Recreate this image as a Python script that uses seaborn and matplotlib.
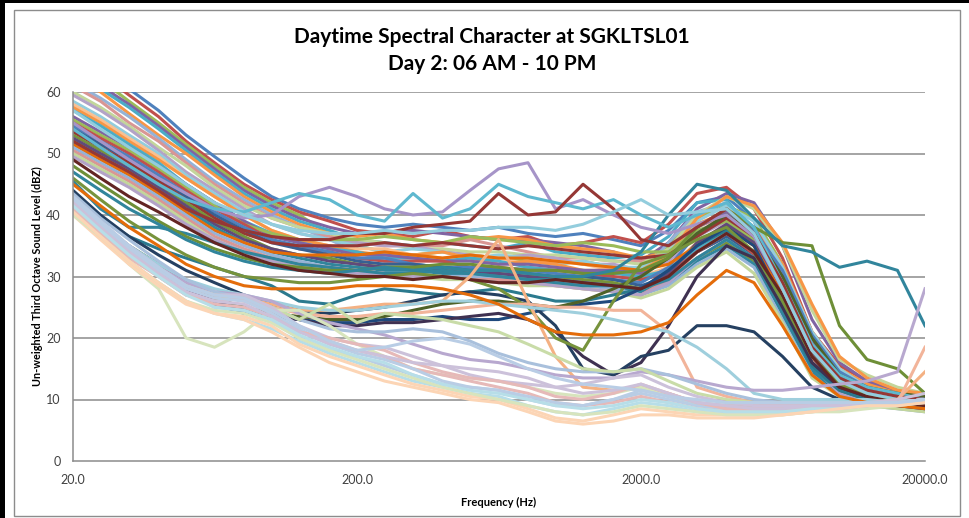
import matplotlib
matplotlib.use("Agg")
import matplotlib.pyplot as plt
from matplotlib.patches import Rectangle
import pandas as pd
import seaborn as sns

plt.rcParams["font.family"] = ["Lato", "DejaVu Sans"]

# third octave band centre frequencies (Hz)
bands = [20, 25, 31.5, 40, 50, 63, 80, 100, 125, 160, 200, 250, 315, 400, 500, 630,
         800, 1000, 1250, 1600, 2000, 2500, 3150, 4000, 5000, 6300, 8000, 10000,
         12500, 16000, 20000]

# busy daytime intervals (dBZ per band)
loud = [
    [67, 64, 60.5, 57, 53, 49.5, 46, 43, 41, 39.5, 38.5, 38, 38.5, 38, 37.5, 38, 37, 36.5, 37, 36, 35, 37.5, 42, 43, 39, 30, 19, 14, 12, 10.5, 9],
    [66, 63, 59.5, 56, 52, 48.5, 45, 42.5, 40.5, 39, 37.5, 37, 36.5, 37.5, 36.5, 36, 36.5, 35, 35.5, 36.5, 35.5, 38.5, 43.5, 44.5, 41, 33, 21, 15.5, 13, 11.5, 10],
    [65, 62, 58.5, 55, 51.5, 48, 44.5, 42, 40, 37, 35, 34, 33.5, 34, 33.5, 33, 32.5, 32, 32.5, 31.5, 31, 35, 39.5, 41.5, 39.5, 32, 20, 14.5, 12, 10.5, 9.5],
    [64, 61, 58, 54.5, 51, 47.5, 44, 41.5, 39.5, 38, 37, 37, 37.5, 37, 36.5, 36, 36, 35.5, 35, 34, 32.5, 35.5, 41, 43.5, 42, 35, 23, 16, 13, 11, 10],
    [63, 60.5, 57.5, 54, 50.5, 47, 43.5, 41, 39, 37.5, 36, 35.5, 35, 35.5, 35, 34.5, 35.5, 34, 33.5, 33, 33.5, 36.5, 42, 42.5, 37, 27, 17, 13, 11, 9.5, 9],
    [62.5, 60, 56.5, 53, 50, 46.5, 43, 40.5, 38.5, 37, 36.5, 37, 36, 35.5, 36, 36.5, 36, 35, 34.5, 34, 33, 34, 38.5, 40.5, 38, 32, 21, 15, 12.5, 11, 10.5],
    [61.5, 59, 56, 52.5, 49, 45.5, 42.5, 40, 38, 36, 34, 32.5, 32, 31.5, 31.5, 31, 31.5, 31, 31, 30.5, 30.5, 35.5, 40.5, 42, 37.5, 28, 17.5, 13, 11, 10, 9],
    [61, 58.5, 55, 52, 48.5, 45, 42, 39.5, 38, 36.5, 35.5, 35, 35, 35, 36, 35, 34, 33, 33, 32.5, 32.5, 34, 38, 40, 37.5, 30, 19.5, 14, 11.5, 10, 9.5],
    [60, 57.5, 54.5, 51, 48, 44.5, 41.5, 39.5, 38, 37, 36, 35.5, 34.5, 34.5, 34, 34, 33.5, 33.5, 33, 32.5, 32, 34.5, 40, 43, 41, 35, 24.5, 16.5, 14, 12, 11],
    [59.5, 57, 54, 50.5, 47, 44, 41, 38.5, 37, 36, 35.5, 35, 35, 34, 33.5, 33, 33.5, 33, 32, 32, 31, 32.5, 36.5, 39, 36, 28, 18, 13.5, 11.5, 10, 9],
    [58.5, 56, 53, 50, 46.5, 43.5, 40.5, 38.5, 37, 36, 35, 34, 34.5, 34, 33, 33.5, 33, 32, 32.5, 31.5, 31.5, 34, 39, 41.5, 39, 31.5, 21, 15, 12, 10.5, 10],
    [58, 55.5, 52.5, 49.5, 46, 43, 40, 37.5, 36, 35, 34.5, 34.5, 33.5, 33, 33.5, 33, 32, 32.5, 32, 31, 30, 31.5, 35.5, 38.5, 35.5, 27, 17, 12.5, 10.5, 9.5, 9],
    [57.5, 55, 52, 49, 46, 43, 40, 37.5, 36, 35, 34, 33.5, 33.5, 34, 33, 32, 32.5, 32, 31, 31, 31, 33.5, 39.5, 43, 41.5, 35.5, 25.5, 17, 13.5, 11.5, 11],
    [57, 54.5, 51.5, 48.5, 45, 42, 39, 37, 35.5, 34.5, 34, 33, 33, 32.5, 33, 32.5, 31.5, 31, 31, 30.5, 30, 31, 34.5, 37, 34, 26, 16.5, 12, 10.5, 9.5, 9],
    [56, 53.5, 51, 48, 45, 42, 39, 36.5, 35.5, 34.5, 33.5, 33.5, 33, 32.5, 32.5, 32, 32, 31.5, 31, 31, 30.5, 33, 38, 40.5, 38, 30, 19.5, 14, 11.5, 10, 9.5],
    [55.5, 53, 50.5, 47.5, 44.5, 41.5, 38.5, 37, 36, 36, 36, 36.5, 36, 35.5, 36.5, 36, 35.5, 35, 35.5, 35, 34, 34, 37.5, 39, 36, 28.5, 18.5, 13, 11, 10, 9.5],
    [55, 52.5, 50, 47, 44, 41, 38.5, 36, 34.5, 34, 33, 32.5, 32.5, 32.5, 31.5, 31.5, 31, 31, 30.5, 30, 29.5, 30.5, 34, 36.5, 33.5, 25, 15.5, 11.5, 10, 9.5, 9],
    [54.5, 52, 49.5, 46.5, 43.5, 40.5, 38, 36, 35, 34, 33, 33, 32, 31.5, 31.5, 31, 31, 30.5, 30, 29.5, 29, 31.5, 37, 40, 37.5, 31, 20.5, 14.5, 12, 10.5, 10],
    [54, 51.5, 49, 46, 43, 40, 37.5, 35.5, 34.5, 33.5, 32.5, 32, 32, 31.5, 31, 31, 30.5, 30, 30, 29.5, 28.5, 30, 34, 36.5, 33, 24.5, 15.5, 11.5, 10, 9.5, 9],
    [53.5, 51, 48.5, 45.5, 42.5, 39.5, 37, 35.5, 35, 35, 35, 35.5, 35, 35.5, 35, 34.5, 35, 34.5, 34, 33.5, 33, 33.5, 36.5, 39.5, 36.5, 29, 18.5, 13.5, 11.5, 10, 9.5],
    [53, 50.5, 48, 45, 42, 39, 36.5, 34.5, 33.5, 33, 32, 31.5, 31.5, 31, 30.5, 30.5, 30, 30, 29.5, 29, 28, 29.5, 33, 35.5, 32.5, 24, 14.5, 11, 9.5, 9, 8.5],
    [52.5, 50, 47.5, 44.5, 41.5, 38.5, 36, 34.5, 33.5, 32.5, 32, 31.5, 31, 31, 30.5, 30.5, 30, 29.5, 29, 28.5, 28, 30.5, 35.5, 38.5, 35.5, 28, 17.5, 13, 11, 10, 9.5],
    [52, 49.5, 47, 44, 41, 38, 35.5, 34, 33, 32, 31.5, 31, 31, 30.5, 30.5, 30, 29.5, 29.5, 29, 28.5, 27.5, 29, 32.5, 35, 32, 24, 14.5, 11, 9.5, 9, 8.5],
    [51.5, 49, 46.5, 43.5, 40.5, 37.5, 35.5, 34, 33.5, 33.5, 33.5, 34, 33.5, 33, 33.5, 33, 33, 32.5, 32, 31.5, 31, 32, 35, 38, 35, 27, 17, 12.5, 10.5, 9.5, 9],
    [51, 48.5, 46, 43, 40, 37, 35, 33.5, 32.5, 31.5, 31, 30.5, 30.5, 30, 30, 29.5, 29, 29, 28.5, 28, 27, 28.5, 32, 34.5, 31.5, 23, 14, 10.5, 9, 8.5, 8],
    [50.5, 48, 45.5, 42.5, 39.5, 36.5, 34.5, 33, 32, 31.5, 31, 30.5, 30, 30, 29.5, 29.5, 29, 28.5, 28, 27.5, 27, 29.5, 34, 37, 34, 26, 16.5, 12, 10.5, 9.5, 9],
    [50, 47.5, 45, 42, 39, 36, 34, 32.5, 31.5, 31, 30.5, 30, 30, 29.5, 29.5, 29, 28.5, 28.5, 28, 27.5, 26.5, 28, 31.5, 34, 30.5, 22.5, 13.5, 10.5, 9, 8.5, 8],
    [49.5, 47, 44.5, 41.5, 38.5, 36, 34, 32.5, 31.5, 31, 30.5, 30.5, 30, 30, 29.5, 29, 29, 28.5, 28, 27.5, 27, 29, 33, 36, 33, 25, 15.5, 11, 9.5, 9, 8.5],
]

# intervals with distinct events in the mid bands
events = [
    [55, 52, 49, 46, 43.5, 41, 39.5, 40, 43, 44.5, 43, 41, 40, 40.5, 44, 47.5, 48.5, 41, 42.5, 40, 38, 37, 38.5, 40, 36.5, 28, 18, 13.5, 11.5, 10.5, 10],
    [54, 51, 48, 45, 42.5, 41, 40.5, 42, 43.5, 42.5, 40, 39, 43.5, 39.5, 41, 45, 43, 42, 41, 42.5, 40, 38, 40, 42, 38, 29, 19, 14, 12, 11, 10],
    [52, 49.5, 47, 44, 41, 39, 37.5, 36.5, 36, 36, 37, 37, 38, 38.5, 39, 43.5, 40, 40.5, 45, 41, 36, 35, 38, 41, 37, 29, 18.5, 13.5, 11.5, 10.5, 10],
    [57, 54, 51, 48, 45, 42, 40, 38.5, 37.5, 37, 37, 37.5, 37, 37.5, 37.5, 38, 38, 37.5, 38.5, 40.5, 42.5, 40, 40.5, 41, 37, 28, 18, 13, 11, 10, 9.5],
]

# darker mid level intervals
middle = [
    [45.5, 41, 38, 38, 37, 35.5, 34, 33, 32, 31.5, 31, 30.5, 30.5, 31, 30.5, 30, 29.5, 29, 28.5, 28.5, 28, 29.5, 33, 36, 33, 24, 15, 11.5, 10, 9.5, 9],
    [43.5, 39.5, 36.5, 34.5, 33, 31.5, 30, 28.5, 26, 25.5, 27, 28, 27.5, 27, 27.5, 28, 27, 26, 26, 27, 28, 31, 35, 37.5, 34, 25, 15.5, 11.5, 10, 9.5, 9],
    [41, 37.5, 34, 31, 28, 25.5, 24, 23.5, 23, 22.5, 22.5, 23, 23, 23.5, 23, 23, 24, 25, 25.5, 26, 28, 31, 35, 38, 35, 26, 16, 12, 10.5, 10, 9.5],
    [42, 38.5, 35, 32, 29, 26.5, 25, 24, 23.5, 23, 23, 23.5, 24.5, 25.5, 26, 26, 25.5, 25, 26, 28, 30, 33, 37, 40, 37, 30, 20, 14, 12, 11, 10.5],
    [40.5, 37, 33.5, 30.5, 28, 26, 24.5, 23.5, 23, 22, 22, 22.5, 22.5, 23, 23.5, 24, 23, 21, 17, 14, 16, 22, 30, 35, 33, 25, 16, 12, 10.5, 10, 9.5],
    [44, 40, 36.5, 33.5, 31, 29, 27, 25.5, 24.5, 24, 24.5, 25, 26, 27, 27.5, 27, 26, 22, 15, 14, 17, 18, 22, 22, 21, 17, 12, 10, 9.5, 9, 8.5],
    [46, 42.5, 39, 36, 33.5, 31.5, 30, 29.5, 29, 29, 29.5, 30, 30.5, 30, 29.5, 28, 25, 20, 18, 26, 32, 33.5, 36, 38, 34, 26, 17, 12.5, 10.5, 10, 9.5],
    [48, 45, 42, 39, 36.5, 34.5, 33, 32, 31.5, 31, 31, 31.5, 31.5, 32, 32, 31.5, 31, 31, 30.5, 30.5, 31, 33, 38, 41, 38, 35.5, 35, 22, 16.5, 15, 11],
    [47, 44, 41, 38.5, 36, 34, 32.5, 31.5, 31, 30.5, 31, 31.5, 31, 31.5, 31, 31, 30.5, 30, 30, 31, 34, 40, 45, 44, 39.5, 35, 34, 31.5, 32.5, 31, 22],
    [49, 46, 43, 40.5, 38, 35.5, 33.5, 32, 31, 30.5, 30, 30, 29.5, 30, 29.5, 29, 29, 29.5, 29, 28.5, 28, 30, 34, 37, 34, 27, 17, 12, 10.5, 9.5, 9],
]

# lower, lighter intervals
lower = [
    [42, 38, 34, 31, 28.5, 27, 26.5, 25.5, 24.5, 24.5, 25, 25.5, 25.5, 26, 30, 36, 26, 17, 12, 11.5, 12, 11, 9.5, 9, 9, 9, 9, 9, 9.5, 10, 14.5],
    [41.5, 37.5, 34, 31, 28.5, 27, 26, 25, 24, 23.5, 23.5, 24, 24, 24.5, 25, 25.5, 25.5, 25, 25, 24.5, 24.5, 21, 12, 10.5, 9.5, 9, 9, 9, 9, 9.5, 18.5],
    [42, 38.5, 35, 32, 29.5, 28, 27, 26, 25, 24.5, 24.5, 25, 25.5, 26, 26, 25.5, 25, 24.5, 24, 23, 22, 21, 18.5, 15, 11, 10, 10, 10, 10, 9.5, 9.5],
    [45, 41.5, 38, 35, 32, 30, 28.5, 28, 28, 28, 28.5, 28.5, 28.5, 28, 27, 25.5, 23, 21, 20.5, 20.5, 21, 22.5, 27, 31, 29, 22, 14, 10.5, 9.5, 9, 8.5],
    [42.5, 38.5, 35, 31.5, 29, 27.5, 27, 26, 24, 22.5, 21.5, 20.5, 19, 17.5, 16.5, 16, 15, 14, 13.5, 13.5, 14.5, 14, 13, 12, 11.5, 11.5, 12, 12.5, 13, 14.5, 28],
    [43.5, 39.5, 36, 32.5, 29.5, 27.5, 26.5, 25, 23, 21.5, 21, 21, 21.5, 21, 19.5, 17.5, 16, 15, 14.5, 14.5, 15, 14, 12.5, 11, 10, 9.5, 9.5, 9.5, 9.5, 9.5, 10],
    [42, 38, 34.5, 31, 28.5, 27, 26.5, 25, 23, 25.5, 22.5, 24, 23.5, 23, 22, 21, 19, 17, 15, 14.5, 15, 13, 11, 10, 9.5, 9.5, 9.5, 9.5, 9.5, 9.5, 10],
]

# quietest intervals
quiet = [
    [41, 36.5, 32, 28, 20, 18.5, 21, 24.5, 24.5, 22, 19, 17, 15, 14, 13.5, 13, 12, 11, 10.5, 11, 12, 10.5, 9, 8.5, 8.5, 8.5, 8.5, 9, 9, 9.5, 10],
    [42, 38, 34, 30.5, 27.5, 25, 24.5, 23, 20, 18, 17, 15.5, 14, 12.5, 12, 11.5, 10, 9, 9, 10, 11, 10, 9, 8.5, 8.5, 8.5, 9, 9, 9, 9.5, 10],
    [41.5, 37.5, 33.5, 30, 27, 26, 26.5, 24, 21, 19.5, 18, 17, 15, 14, 13, 12, 11, 9.5, 9, 9.5, 10.5, 9.5, 8.5, 8, 8, 8, 8.5, 8.5, 9, 9.5, 10],
    [43, 39, 35, 31.5, 28.5, 27, 27, 25, 22, 20, 19, 18.5, 17, 15.5, 14, 13, 12.5, 12, 12.5, 13.5, 14, 12, 10.5, 9.5, 9, 9, 9, 9, 9.5, 10, 11],
    [40.5, 36.5, 32.5, 29, 26, 24, 23, 21.5, 19.5, 17.5, 16, 14.5, 13, 12, 11, 10.5, 9, 8, 7.5, 8.5, 9.5, 9, 8, 7.5, 7.5, 8, 8, 8.5, 9, 9.5, 10],
    [40, 36, 32, 28.5, 25.5, 24, 23.5, 22, 19, 17, 15.5, 14, 12.5, 11.5, 10.5, 10, 8.5, 7, 6.5, 7.5, 8.5, 8, 7.5, 7.5, 7.5, 7.5, 8, 8.5, 9, 9.5, 9.5],
    [42.5, 38.5, 34.5, 31, 28, 26.5, 26, 24, 21.5, 19, 17.5, 16.5, 15, 13, 12, 11.5, 10.5, 9.5, 9, 10, 11.5, 10.5, 9.5, 9, 8.5, 8.5, 8.5, 9, 9, 9.5, 10],
    [41, 37, 33, 30, 27, 25.5, 25, 23.5, 21, 20, 19, 18, 16, 14.5, 13.5, 13, 12, 10.5, 10, 11, 12.5, 11, 9.5, 8.5, 8.5, 8.5, 8.5, 8.5, 9, 9.5, 10],
    [40, 36.5, 32.5, 29, 26, 24.5, 24, 22.5, 20, 18, 16.5, 15, 13.5, 12, 11, 10, 9, 8, 7.5, 8, 9, 8.5, 8, 7.5, 7.5, 7.5, 8, 8, 8.5, 9, 9.5],
    [42, 38, 34, 30.5, 27.5, 26, 25.5, 23.5, 21, 19, 18, 17, 16, 15.5, 15, 14.5, 13.5, 12, 11, 11.5, 12.5, 11, 9.5, 9, 8.5, 8.5, 9, 9, 9, 9.5, 10],
    [41.5, 37.5, 33.5, 30, 27, 25, 24.5, 23, 20.5, 18.5, 17, 16, 14, 12.5, 11.5, 11, 10, 9, 8.5, 9, 10, 9.5, 8.5, 8, 8, 8, 8.5, 8.5, 9, 9.5, 10],
    [40.5, 36.5, 32.5, 29, 26, 24, 23, 21, 18.5, 16, 14.5, 13, 12, 11, 10, 9.5, 8, 6.5, 6, 6.5, 7.5, 7.5, 7, 7, 7, 7.5, 8, 8.5, 9, 9, 9.5],
    [43, 39, 35, 31.5, 28.5, 27, 26.5, 24.5, 22, 19.5, 18, 18.5, 19.5, 20, 19, 17, 15, 13.5, 12.5, 12, 11.5, 10.5, 10, 9.5, 9.5, 9.5, 9.5, 9.5, 9.5, 9.5, 10],
]

base = ["#4F81BD", "#C0504D", "#9BBB59", "#8064A2", "#4BACC6", "#F79646"]
light = ["#95B3D7", "#D99694", "#C3D69B", "#B3A2C7", "#93CDDD", "#FAC090"]
dark = ["#376092", "#953735", "#77933C", "#604A7B", "#31859C", "#E46C0A"]
pastel = ["#B9CDE5", "#E6B9B8", "#D7E4BD", "#CCC1DA", "#B7DEE8", "#FCD5B5"]

loud_colors = (base + light + base[::-1] + dark + light[:4])[:len(loud)]
event_colors = ["#A694C8", "#5FB8CF", "#953735", "#93CDDD"]
middle_colors = ["#31859C", "#2B7A8E", "#1F497D", "#4F6228", "#3F3151",
                 "#254061", "#77933C", "#6E8F37", "#31859C", "#632523"]
lower_colors = ["#F4B183", "#F2B49A", "#9FCFDD", "#E46C0A", "#B8A8CF", "#A9C0DC", "#C9DCA8"]
quiet_colors = [pastel[2], pastel[0], pastel[1], pastel[3], pastel[4], pastel[5],
                pastel[0], pastel[1], pastel[2], pastel[3], pastel[4], pastel[5], pastel[0]]

groups = [(loud, loud_colors), (middle, middle_colors), (events, event_colors),
          (lower, lower_colors), (quiet, quiet_colors)]

rows = []
names = []
colors = []
for values, cols in groups:
    for series, col in zip(values, cols):
        name = "s%02d" % len(names)
        names.append(name)
        colors.append(col)
        for f, v in zip(bands, series):
            rows.append({"series": name, "freq": f, "level": v})
df = pd.DataFrame(rows)

W, H = 969, 518
fig = plt.figure(figsize=(W / 100, H / 100), dpi=100)
fig.patch.set_facecolor("white")
ax = fig.add_axes([73 / W, 1 - 461 / H, (925 - 73) / W, (461 - 92) / H])

for y in range(10, 70, 10):
    ax.axhline(y, color="#8C8C8C", lw=1.1, zorder=0)

sns.lineplot(data=df, x="freq", y="level", hue="series", hue_order=names,
             palette=colors, estimator=None, legend=False, lw=2.2, ax=ax)

ax.set_xscale("log")
ax.set_xlim(20, 20000)
ax.set_ylim(0, 60)
ax.set_xticks([20, 200, 2000, 20000])
ax.set_xticklabels(["20.0", "200.0", "2000.0", "20000.0"])
ax.minorticks_off()
ax.set_yticks(range(0, 70, 10))
ax.tick_params(length=0, labelsize=9, labelcolor="#404040", pad=9)
for s in ["top", "right"]:
    ax.spines[s].set_visible(False)
for s in ["left", "bottom"]:
    ax.spines[s].set_color("#8C8C8C")
    ax.spines[s].set_linewidth(1.1)
ax.set_facecolor("white")

ax.set_xlabel("Frequency (Hz)", fontsize=8, fontweight="bold", labelpad=8)
ax.set_ylabel("Un-weighted Third Octave Sound Level (dBZ)", fontsize=7.8,
              fontweight="bold", labelpad=2)

fig.text(492 / W, 1 - 37 / H, "Daytime Spectral Character at SGKLTSL01",
         ha="center", va="center", fontsize=15, fontweight="bold")
fig.text(492 / W, 1 - 64 / H, "Day 2: 06 AM - 10 PM",
         ha="center", va="center", fontsize=15, fontweight="bold")

# chart area frame and screenshot edge
fig.add_artist(Rectangle((14 / W, 1 - 516 / H), (960 - 14) / W, (516 - 10) / H,
                         transform=fig.transFigure, fill=False, ec="#8C8C8C", lw=1))
fig.add_artist(Rectangle((0, 1 - 3 / H), 1, 3 / H, transform=fig.transFigure,
                         color="black", lw=0))
fig.add_artist(Rectangle((0, 0), 5 / W, 1, transform=fig.transFigure,
                         color="black", lw=0))

fig.savefig("out.png", dpi=100)
